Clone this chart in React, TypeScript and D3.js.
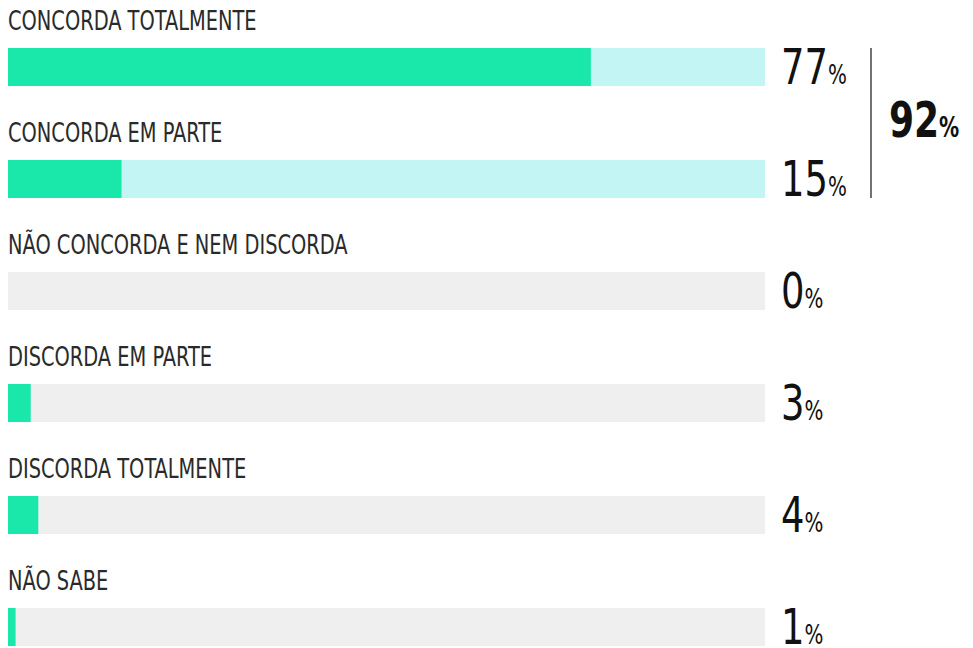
import React from "react";
import * as d3 from "d3";

const categories = [
  "CONCORDA TOTALMENTE",
  "CONCORDA EM PARTE",
  "NÃO CONCORDA E NEM DISCORDA",
  "DISCORDA EM PARTE",
  "DISCORDA TOTALMENTE",
  "NÃO SABE",
];
const values = [77, 15, 0, 3, 4, 1];
const highlighted = [true, true, false, false, false, false];
const groupTotal = 92;

const W = 973;
const H = 648;
const FONT = "'Liberation Sans Narrow', 'DejaVu Sans Condensed', 'Roboto', sans-serif";

export default function App() {
  const x = d3.scaleLinear().domain([0, 100]).range([8, 765]);
  const y = d3
    .scaleBand<number>()
    .domain(d3.range(categories.length))
    .range([0, 672])
    .paddingInner(0)
    .paddingOuter(0);
  const barTop = 48;
  const barH = 38;

  return (
    <svg
      width={W}
      height={H}
      style={{ position: "absolute", left: 0, top: 0, background: "#fff" }}
      fontFamily={FONT}
    >
      {categories.map((c, i) => {
        const y0 = (y(i) as number) + barTop;
        return (
          <g key={c}>
            <text
              transform={`translate(8, ${y0 - 18}) scale(0.83,1)`}
              fontSize={26}
              fill="#2a2a2a"
              fontWeight={300}
            >
              {c}
            </text>
            <rect
              x={x(0)}
              y={y0}
              width={x(100) - x(0)}
              height={barH}
              fill={highlighted[i] ? "#c3f5f5" : "#efefef"}
            />
            <rect
              x={x(0)}
              y={y0}
              width={x(values[i]) - x(0)}
              height={barH}
              fill="#1ae8aa"
            />
            <text
              transform={`translate(781, ${y0 + barH - 2}) scale(0.82,1)`}
              fill="#111"
            >
              <tspan fontSize={50}>{values[i]}</tspan>
              <tspan fontSize={27}>%</tspan>
            </text>
          </g>
        );
      })}
      <line
        x1={871}
        x2={871}
        y1={barTop}
        y2={(y(1) as number) + barTop + barH}
        stroke="#444"
        strokeWidth={1.5}
      />
      <text
        transform={`translate(889, 137) scale(0.8,1)`}
        fill="#111"
        fontWeight={700}
      >
        <tspan fontSize={50}>{groupTotal}</tspan>
        <tspan fontSize={28}>%</tspan>
      </text>
    </svg>
  );
}
